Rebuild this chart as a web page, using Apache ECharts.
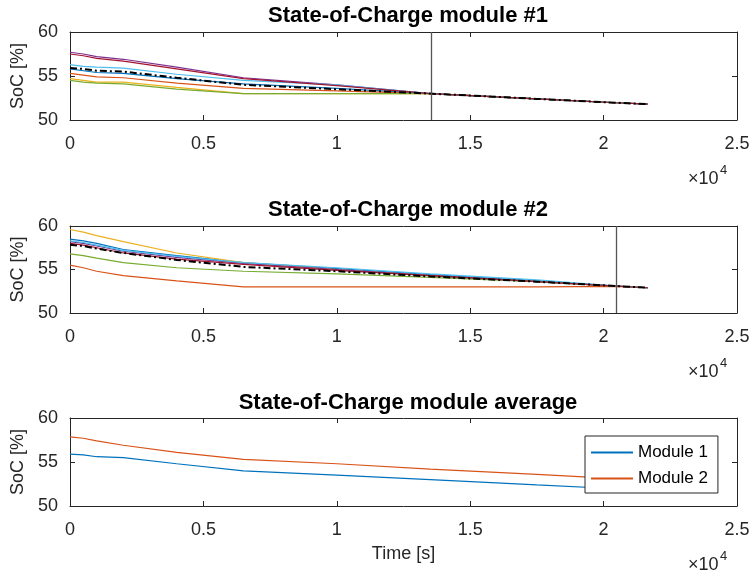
<!DOCTYPE html>
<html>
<head>
<meta charset="utf-8">
<script src="https://cdn.jsdelivr.net/npm/echarts@6/dist/echarts.min.js"></script>
<style>
  html, body { margin: 0; padding: 0; background: #fff; }
  #chart { width: 753px; height: 577px; }
</style>
</head>
<body>
<div id="chart"></div>
<script>
// Sample times [s]
const time = [0, 500, 1000, 2000, 4000, 6500, 10000, 13500, 17500, 20470, 21660];

// Module 1 cell SoC [%]
const m1Blue      = [55.8, 55.6, 55.4, 55.3, 54.7, 54.1, 53.6, 53.0, 52.4, 51.96, 51.8];
const m1Orange    = [55.3, 55.1, 54.9, 54.8, 54.2, 53.6, 53.3, 53.0, 52.4, 51.96, 51.8];
const m1Yellow    = [54.7, 54.5, 54.3, 54.3, 53.7, 53.0, 53.0, 53.0, 52.4, 51.96, 51.8];
const m1Purple    = [57.7, 57.5, 57.2, 56.9, 56.0, 54.8, 54.0, 53.0, 52.4, 51.96, 51.8];
const m1Green     = [54.5, 54.3, 54.2, 54.1, 53.5, 53.0, 53.0, 53.0, 52.4, 51.96, 51.8];
const m1LightBlue = [56.3, 56.1, 56.0, 55.9, 55.2, 54.5, 54.0, 53.0, 52.4, 51.96, 51.8];
const m1DarkRed   = [57.5, 57.3, 57.0, 56.7, 55.8, 54.7, 53.9, 53.0, 52.4, 51.96, 51.8];
const m1Mean      = [55.9, 55.8, 55.6, 55.5, 54.8, 54.0, 53.5, 53.0, 52.4, 51.96, 51.8];

// Module 2 cell SoC [%]
const m2Blue      = [58.5, 58.3, 58.0, 57.3, 56.6, 55.8, 55.1, 54.4, 53.7, 53.1, 52.9];
const m2Orange    = [55.5, 55.2, 54.8, 54.3, 53.7, 53.0, 53.0, 53.0, 53.0, 53.05, 52.9];
const m2Yellow    = [59.6, 59.3, 58.9, 58.2, 56.9, 55.8, 55.0, 54.3, 53.6, 53.1, 52.9];
const m2Purple    = [58.2, 58.0, 57.7, 57.1, 56.4, 55.7, 55.0, 54.3, 53.6, 53.1, 52.9];
const m2Green     = [56.8, 56.6, 56.3, 55.8, 55.2, 54.8, 54.5, 54.1, 53.6, 53.1, 52.9];
const m2LightBlue = [58.3, 58.1, 57.8, 57.2, 56.5, 55.8, 55.2, 54.5, 53.8, 53.1, 52.9];
const m2DarkRed   = [58.0, 57.8, 57.5, 56.9, 56.2, 55.6, 54.9, 54.3, 53.6, 53.1, 52.9];
const m2Mean      = [57.85, 57.7, 57.4, 56.9, 56.1, 55.3, 54.8, 54.2, 53.6, 53.1, 52.9];

// Balancing finished [s]
const balanceDone1 = 13530;
const balanceDone2 = 20470;

// Axis ticks
const xTicks = [0, 5000, 10000, 15000, 20000, 25000];
const yTicks = [50, 55, 60];

const titles = ['State-of-Charge module #1', 'State-of-Charge module #2', 'State-of-Charge module average'];
const legendNames = ['Module 1', 'Module 2'];

const C = {
  blue: '#0072BD', orange: '#D95319', yellow: '#EDB120', purple: '#7E2F8E',
  green: '#77AC30', lightBlue: '#4DBEEE', darkRed: '#A2142F'
};
const FONT = '"Liberation Sans", Arial, Helvetica, sans-serif';
const AX = '#262626';
const FS = 18;

const pairs = (vals) => vals.map((v, i) => [time[i], v]);

const grids = [
  { left: 70, right: 16, top: 32, height: 88 },
  { left: 70, right: 16, top: 226, height: 87 },
  { left: 70, right: 16, top: 418, height: 88 }
];

const xAxes = [];
const yAxes = [];
grids.forEach((g, i) => {
  xAxes.push({
    type: 'value', gridIndex: i, min: xTicks[0], max: xTicks[xTicks.length - 1], interval: 5000,
    axisLine: { show: true, onZero: false, lineStyle: { color: AX, width: 1 } },
    axisTick: { show: true, inside: true, length: 5, lineStyle: { color: AX } },
    axisLabel: { color: AX, fontSize: FS, fontFamily: FONT, margin: 15,
      formatter: (v) => String(+(v / 1e4).toFixed(1)) },
    splitLine: { show: false },
    name: i === 2 ? 'Time [s]' : '', nameLocation: 'middle', nameGap: 39,
    nameTextStyle: { color: AX, fontSize: FS, fontFamily: FONT }
  });
  xAxes.push({
    type: 'value', gridIndex: i, position: 'top', min: xTicks[0], max: xTicks[xTicks.length - 1], interval: 5000,
    axisLine: { show: true, onZero: false, lineStyle: { color: AX, width: 1 } },
    axisTick: { show: true, inside: true, length: 5, lineStyle: { color: AX } },
    axisLabel: { show: false }, splitLine: { show: false }
  });
  yAxes.push({
    type: 'value', gridIndex: i, min: yTicks[0], max: yTicks[yTicks.length - 1], interval: 5,
    axisLine: { show: true, onZero: false, lineStyle: { color: AX, width: 1 } },
    axisTick: { show: true, inside: true, length: 5, lineStyle: { color: AX } },
    axisLabel: { color: AX, fontSize: FS, fontFamily: FONT, margin: 12 },
    splitLine: { show: false },
    name: 'SoC [%]', nameLocation: 'middle', nameGap: 36, nameRotate: 90,
    nameTextStyle: { color: AX, fontSize: FS, fontFamily: FONT }
  });
  yAxes.push({
    type: 'value', gridIndex: i, position: 'right', min: yTicks[0], max: yTicks[yTicks.length - 1], interval: 5,
    axisLine: { show: true, onZero: false, lineStyle: { color: AX, width: 1 } },
    axisTick: { show: true, inside: true, length: 5, lineStyle: { color: AX } },
    axisLabel: { show: false }, splitLine: { show: false }
  });
});

function cellLine(grid, vals, color, name) {
  return {
    type: 'line', name: name || undefined, xAxisIndex: grid * 2, yAxisIndex: grid * 2,
    data: pairs(vals), showSymbol: false, symbol: 'none', smooth: false, silent: true,
    lineStyle: { color: color, width: 1.2 }, itemStyle: { color: color }, z: 2
  };
}

function meanLine(grid, vals, markX) {
  return {
    type: 'line', xAxisIndex: grid * 2, yAxisIndex: grid * 2,
    data: pairs(vals), showSymbol: false, symbol: 'none', silent: true,
    lineStyle: { color: '#000', width: 2, type: [7, 3, 2, 3] }, z: 4,
    markLine: {
      silent: true, symbol: 'none', label: { show: false },
      lineStyle: { color: '#555', width: 1.3, type: 'solid' },
      data: [{ xAxis: markX }]
    }
  };
}

const series = [
  cellLine(0, m1Blue, C.blue), cellLine(0, m1Orange, C.orange), cellLine(0, m1Yellow, C.yellow),
  cellLine(0, m1Purple, C.purple), cellLine(0, m1Green, C.green), cellLine(0, m1LightBlue, C.lightBlue),
  cellLine(0, m1DarkRed, C.darkRed), meanLine(0, m1Mean, balanceDone1),
  cellLine(1, m2Blue, C.blue), cellLine(1, m2Orange, C.orange), cellLine(1, m2Yellow, C.yellow),
  cellLine(1, m2Purple, C.purple), cellLine(1, m2Green, C.green), cellLine(1, m2LightBlue, C.lightBlue),
  cellLine(1, m2DarkRed, C.darkRed), meanLine(1, m2Mean, balanceDone2),
  cellLine(2, m1Mean, C.blue, legendNames[0]), cellLine(2, m2Mean, C.orange, legendNames[1])
];

const titleY = [0, 194, 387];
const exponentY = [179, 372, 565];

// "×10^4" scale factor under each time axis
const graphics = [];
exponentY.forEach((y) => {
  graphics.push({
    type: 'text', x: 688, y: y, silent: true, z: 10,
    style: { text: '×10', fontSize: 18, fontFamily: FONT, fill: AX, verticalAlign: 'middle', align: 'left' }
  });
  graphics.push({
    type: 'text', x: 720, y: y - 9, silent: true, z: 10,
    style: { text: '4', fontSize: 13, fontFamily: FONT, fill: AX, verticalAlign: 'middle', align: 'left' }
  });
});

const chart = echarts.init(document.getElementById('chart'), null, { renderer: 'canvas' });
chart.setOption({
  animation: false,
  backgroundColor: '#fff',
  title: titles.map((t, i) => ({
    text: t, left: 403, top: titleY[i], textAlign: 'center',
    textStyle: { color: '#000', fontSize: 22, fontWeight: 'bold', fontFamily: FONT }
  })),
  legend: {
    data: legendNames, orient: 'vertical', left: 585, top: 436,
    padding: [8, 10, 6, 6], itemGap: 9, itemWidth: 42, itemHeight: 2, icon: 'rect',
    backgroundColor: '#fff', borderColor: AX, borderWidth: 1, borderRadius: 0,
    textStyle: { color: '#000', fontSize: 17, fontFamily: FONT },
    selectedMode: false, z: 20
  },
  grid: grids,
  xAxis: xAxes,
  yAxis: yAxes,
  series: series,
  graphic: graphics
});
</script>
</body>
</html>
